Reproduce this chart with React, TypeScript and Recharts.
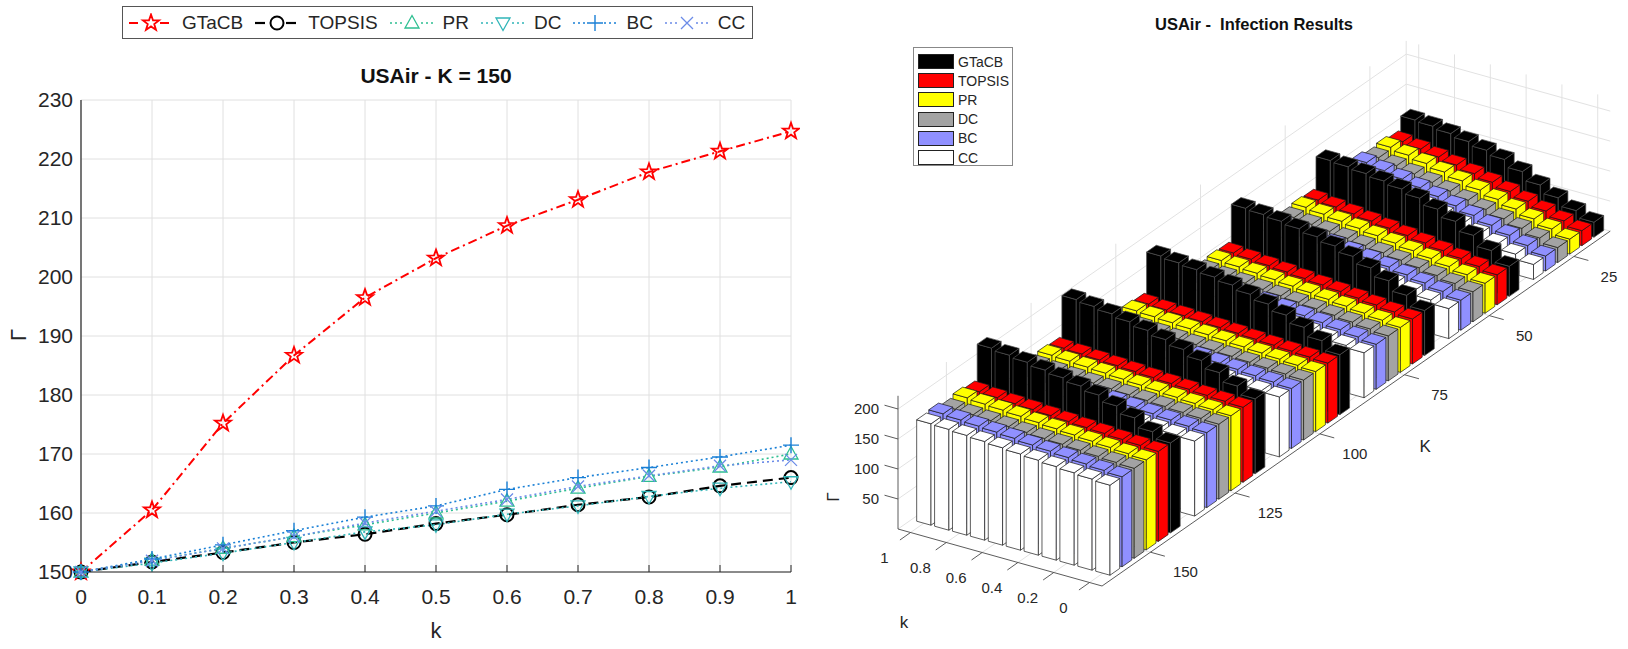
import React from "react";
import { CartesianGrid, Line, LineChart, Scatter, ScatterChart, XAxis, YAxis } from "recharts";

// k on the horizontal axis of the 2D plot, and along the floor of the 3D plot
const kValues = [0, 0.1, 0.2, 0.3, 0.4, 0.5, 0.6, 0.7, 0.8, 0.9, 1];
const kFloorTicks = [0, 0.2, 0.4, 0.6, 0.8, 1];
const groupK = [25, 50, 75, 100, 125, 150];
const gammaTicks = [150, 160, 170, 180, 190, 200, 210, 220, 230];
const zTicks = [50, 100, 150, 200];

// one row per K (25 … 150), values for k = 0 … 1
const gtacb = [
  [25, 36, 49, 62, 76, 88, 95, 101, 106, 110, 112],
  [50, 68, 85, 100, 112, 122, 129, 134, 138, 141, 143],
  [75, 92, 108, 121, 132, 141, 148, 153, 157, 160, 162],
  [100, 115, 129, 141, 151, 159, 166, 171, 175, 178, 181],
  [125, 138, 152, 164, 174, 182, 189, 195, 200, 204, 207],
  [150, 160.5, 175.2, 186.7, 196.5, 203.2, 208.7, 213.1, 217.8, 221.3, 224.7],
];
const topsis = [
  [25, 33, 41, 49, 57, 64, 70, 76, 81, 86, 90],
  [50, 55.5, 60.6, 65.3, 69.7, 73.8, 77.6, 81.2, 84.7, 88, 91.2],
  [75, 78.4, 81.6, 84.6, 87.4, 90, 92.5, 94.9, 97.2, 99.5, 101.6],
  [100, 101.7, 103.3, 104.9, 106.4, 107.9, 109.3, 110.8, 112.2, 113.6, 115],
  [125, 126.6, 128.1, 129.9, 131.2, 132.8, 134.5, 135.9, 137.2, 138.8, 140.1],
  [150, 151.7, 153.3, 155, 156.4, 158.2, 159.7, 161.4, 162.7, 164.6, 166],
];
const pr = [
  [25, 33.6, 42, 50.1, 57.8, 65.2, 72.1, 78.5, 84.4, 89.8, 94.7],
  [50, 55.9, 61.3, 66.3, 70.9, 75.2, 79.2, 83, 86.6, 90, 93.2],
  [75, 78.7, 82.1, 85.3, 88.3, 91.1, 93.7, 96.2, 98.6, 100.9, 103.1],
  [100, 102, 104, 105.9, 107.8, 109.6, 111.3, 113, 114.7, 116.3, 117.8],
  [125, 126.8, 128.7, 130.5, 132.4, 134.1, 135.8, 137.6, 139.2, 140.9, 142.3],
  [150, 152, 154, 156, 158, 160, 162, 164.2, 166.2, 167.8, 170],
];
const dc = [
  [25, 32.7, 40.4, 48, 55.3, 62.4, 69.1, 75.3, 81.1, 86.5, 91.5],
  [50, 55.3, 60.3, 64.9, 69.2, 73.2, 77, 80.6, 84, 87.2, 90.3],
  [75, 78.2, 81.3, 84.2, 86.9, 89.4, 91.8, 94.1, 96.3, 98.4, 100.5],
  [100, 101.6, 103.1, 104.7, 106.2, 107.6, 109, 110.4, 111.8, 113.1, 114.4],
  [125, 126.4, 127.9, 129.5, 131, 132.3, 133.9, 135.2, 136.7, 138, 139.4],
  [150, 151.5, 153.2, 155, 156.8, 158, 159.8, 161.2, 162.8, 164.2, 165.3],
];
const bc = [
  [25, 34.1, 42.9, 51.3, 59.3, 66.9, 74, 80.6, 86.7, 92.3, 97.4],
  [50, 56.3, 62, 67.2, 72, 76.5, 80.7, 84.6, 88.3, 91.8, 95.1],
  [75, 79, 82.7, 86.1, 89.3, 92.2, 94.9, 97.5, 99.9, 102.2, 104.4],
  [100, 102.3, 104.5, 106.7, 108.8, 110.8, 112.8, 114.7, 116.6, 118.4, 120.1],
  [125, 127.1, 129.3, 131.4, 133.5, 135.6, 137.5, 139.4, 141.3, 143, 144.8],
  [150, 152.2, 154.6, 157, 159.3, 161.2, 164, 166, 167.7, 169.5, 171.5],
];
const cc = [
  [25, 33.9, 42.6, 51, 59, 66.5, 73.5, 80.1, 86.2, 91.7, 96.8],
  [50, 56.1, 61.7, 66.9, 71.7, 76.1, 80.3, 84.2, 87.8, 91.2, 94.5],
  [75, 78.9, 82.5, 85.8, 88.9, 91.8, 94.5, 97, 99.4, 101.6, 103.8],
  [100, 102.1, 104.2, 106.2, 108.1, 110, 111.8, 113.6, 115.3, 117, 118.6],
  [125, 126.9, 128.8, 130.7, 132.5, 134.4, 136.2, 138, 139.7, 141.3, 142.9],
  [150, 151.9, 154, 156, 158.3, 160.3, 162.3, 164.5, 166.3, 168, 169],
];

const methods = ["GTaCB", "TOPSIS", "PR", "DC", "BC", "CC"];
const rowsByMethod: Record<string, number[][]> = {
  GTaCB: gtacb,
  TOPSIS: topsis,
  PR: pr,
  DC: dc,
  BC: bc,
  CC: cc,
};

const FONT = '"Liberation Sans", Arial, Helvetica, sans-serif';
const INK = "#262626";

const lineStyle: Record<string, { color: string; dash: string; width: number; marker: string }> = {
  GTaCB: { color: "#ff0000", dash: "9 4 2 4", width: 2, marker: "star" },
  TOPSIS: { color: "#000000", dash: "10 6", width: 2.2, marker: "circle" },
  PR: { color: "#2ebf91", dash: "2 3", width: 1.6, marker: "up" },
  DC: { color: "#30b5b8", dash: "2 3", width: 1.6, marker: "down" },
  BC: { color: "#1a80d6", dash: "2 3", width: 1.6, marker: "plus" },
  CC: { color: "#6b8be8", dash: "2 3", width: 1.6, marker: "x" },
};

const barFill: Record<string, string> = {
  GTaCB: "#000000",
  TOPSIS: "#ff0000",
  PR: "#ffff00",
  DC: "#a3a3a3",
  BC: "#9090ff",
  CC: "#ffffff",
};

// ---------- 2D plot (K = 150) ----------
const k150 = groupK.indexOf(150);
const lineData = kValues.map((k, i) => {
  const row: Record<string, number> = { k };
  methods.forEach((m) => (row[m] = rowsByMethod[m][k150][i]));
  return row;
});

function Marker({ kind, cx, cy, color }: { kind: string; cx: number; cy: number; color: string }) {
  if (cx == null || cy == null) return null;
  if (kind === "star") {
    const pts: string[] = [];
    for (let i = 0; i < 10; i++) {
      const r = i % 2 === 0 ? 8.5 : 3.4;
      const a = -Math.PI / 2 + (i * Math.PI) / 5;
      pts.push(`${cx + r * Math.cos(a)},${cy + r * Math.sin(a)}`);
    }
    return <polygon points={pts.join(" ")} fill="none" stroke={color} strokeWidth={1.8} />;
  }
  if (kind === "circle") return <circle cx={cx} cy={cy} r={6.5} fill="none" stroke={color} strokeWidth={2} />;
  if (kind === "up")
    return (
      <polygon
        points={`${cx},${cy - 7.5} ${cx + 7},${cy + 5} ${cx - 7},${cy + 5}`}
        fill="none"
        stroke={color}
        strokeWidth={1.3}
      />
    );
  if (kind === "down")
    return (
      <polygon
        points={`${cx},${cy + 7.5} ${cx + 7},${cy - 5} ${cx - 7},${cy - 5}`}
        fill="none"
        stroke={color}
        strokeWidth={1.3}
      />
    );
  if (kind === "plus")
    return <path d={`M${cx - 8},${cy}H${cx + 8}M${cx},${cy - 8}V${cy + 8}`} stroke={color} strokeWidth={1.4} />;
  return (
    <path
      d={`M${cx - 6},${cy - 6}L${cx + 6},${cy + 6}M${cx + 6},${cy - 6}L${cx - 6},${cy + 6}`}
      stroke={color}
      strokeWidth={1.3}
    />
  );
}

function LegendSample({ m }: { m: string }) {
  const st = lineStyle[m];
  return (
    <svg width={46} height={20} style={{ display: "block" }}>
      <line x1={1} y1={10} x2={14} y2={10} stroke={st.color} strokeWidth={st.width} strokeDasharray={st.dash} />
      <line x1={32} y1={10} x2={45} y2={10} stroke={st.color} strokeWidth={st.width} strokeDasharray={st.dash} />
      <Marker kind={st.marker} cx={23} cy={10} color={st.color} />
    </svg>
  );
}

function LinePanel() {
  return (
    <div style={{ position: "absolute", left: 0, top: 0, width: 800, height: 649 }}>
      <div
        style={{
          position: "absolute",
          left: 122,
          top: 6,
          width: 631,
          height: 33,
          boxSizing: "border-box",
          border: "1.5px solid #555",
          display: "flex",
          alignItems: "center",
          paddingLeft: 5,
          fontFamily: FONT,
          fontSize: 19,
          color: INK,
        }}
      >
        {methods.map((m) => (
          <div key={m} style={{ display: "flex", alignItems: "center", marginRight: 11 }}>
            <LegendSample m={m} />
            <span style={{ marginLeft: 8 }}>{m}</span>
          </div>
        ))}
      </div>
      <div
        style={{
          position: "absolute",
          left: 81,
          width: 710,
          top: 64,
          textAlign: "center",
          fontFamily: FONT,
          fontWeight: "bold",
          fontSize: 21,
          color: "#111",
        }}
      >
        USAir - K = 150
      </div>
      <LineChart width={800} height={649} data={lineData} margin={{ top: 100, right: 9, bottom: 37, left: 21 }}>
        <CartesianGrid stroke="#e0e0e0" />
        <XAxis
          type="number"
          dataKey="k"
          domain={[0, 1]}
          ticks={kValues}
          tickFormatter={(v) => `${v}`}
          height={40}
          tickLine={false}
          tickMargin={11}
          axisLine={{ stroke: INK, strokeWidth: 1.2 }}
          tick={{ fontSize: 21, fill: INK, fontFamily: FONT }}
        />
        <YAxis
          type="number"
          domain={[150, 230]}
          ticks={gammaTicks}
          width={60}
          tickLine={false}
          axisLine={{ stroke: INK, strokeWidth: 1.2 }}
          tick={{ fontSize: 21, fill: INK, fontFamily: FONT }}
        />
        <XAxis
          xAxisId="inner"
          type="number"
          dataKey="k"
          domain={[0, 1]}
          ticks={kValues}
          mirror
          axisLine={false}
          tickSize={7}
          tickLine={{ stroke: INK }}
          tick={() => <g />}
        />
        <YAxis
          yAxisId="inner"
          type="number"
          domain={[150, 230]}
          ticks={gammaTicks}
          mirror
          axisLine={false}
          tickSize={7}
          tickLine={{ stroke: INK }}
          tick={() => <g />}
        />
        {methods.map((m) => {
          const st = lineStyle[m];
          return (
            <Line
              key={m}
              dataKey={m}
              type="linear"
              stroke={st.color}
              strokeWidth={st.width}
              strokeDasharray={st.dash}
              isAnimationActive={false}
              activeDot={false}
              dot={(p: any) => (
                <Marker key={`${m}-${p.index}`} kind={st.marker} cx={p.cx} cy={p.cy} color={st.color} />
              )}
            />
          );
        })}
      </LineChart>
      <div
        style={{
          position: "absolute",
          left: 426,
          top: 618,
          width: 20,
          textAlign: "center",
          fontFamily: FONT,
          fontSize: 22,
          color: INK,
        }}
      >
        k
      </div>
      <div
        style={{
          position: "absolute",
          left: 9,
          top: 322,
          width: 20,
          textAlign: "center",
          fontFamily: FONT,
          fontSize: 22,
          color: INK,
          transform: "rotate(-90deg)",
        }}
      >
        Γ
      </div>
    </div>
  );
}

// ---------- 3D bar plot ----------
const KV = { x: 17.9, y: 5.0 }; // one k step (0.1) on the floor
const SV = { x: 12.1, y: -8.45 }; // one row slot along K
const FLOOR = { x: 898, y: 529 }; // front-left floor corner
const Z_PX = 0.6;
const U_MIN = -0.7;
const U_MAX = 10.7;
const S_MIN = -0.5;
const S_MAX = 41.5;
const Z_MAX = 222;
const SLOTS = 7;
const frontToBack = ["CC", "BC", "DC", "PR", "TOPSIS", "GTaCB"];

function project(u: number, s: number, z = 0) {
  return {
    px: FLOOR.x + (u - U_MIN) * KV.x + (s - S_MIN) * SV.x,
    py: FLOOR.y + (u - U_MIN) * KV.y + (s - S_MIN) * SV.y - z * Z_PX,
  };
}

const groupSlot = (gi: number) => (groupK.length - 1 - gi) * SLOTS;
const uOfK = (k: number) => Math.round((1 - k) * 10);

const bars: any[] = [];
groupK.forEach((_, gi) => {
  frontToBack.forEach((m, mi) => {
    const s = groupSlot(gi) + 1 + mi;
    rowsByMethod[m][gi].forEach((gamma, j) => {
      const u = uOfK(kValues[j]);
      bars.push({ ...project(u, s), gamma, m, u, s });
    });
  });
});
bars.sort((a, b) => b.s - a.s || a.u - b.u);

type Seg = { px: number; py: number; dx: number; dy: number; stroke: string; w: number };
const gridSegs: Seg[] = [];
const axisSegs: Seg[] = [];
function seg(list: Seg[], a: { px: number; py: number }, b: { px: number; py: number }, stroke: string, w: number) {
  list.push({ px: a.px, py: a.py, dx: b.px - a.px, dy: b.py - a.py, stroke, w });
}
const GRID = "#e2e2e2";
const kTickSlots = groupK.map((_, gi) => groupSlot(gi) + 3.5);
// left wall
kTickSlots.forEach((s) => seg(gridSegs, project(U_MIN, s), project(U_MIN, s, Z_MAX), GRID, 1));
zTicks.forEach((z) => seg(gridSegs, project(U_MIN, S_MIN, z), project(U_MIN, S_MAX, z), GRID, 1));
// back wall
kFloorTicks.forEach((k) => seg(gridSegs, project(uOfK(k), S_MAX), project(uOfK(k), S_MAX, Z_MAX), GRID, 1));
zTicks.forEach((z) => seg(gridSegs, project(U_MIN, S_MAX, z), project(U_MAX, S_MAX, z), GRID, 1));
seg(gridSegs, project(U_MIN, S_MAX), project(U_MIN, S_MAX, Z_MAX), GRID, 1);
// floor
kFloorTicks.forEach((k) => seg(gridSegs, project(uOfK(k), S_MIN), project(uOfK(k), S_MAX), GRID, 1));
kTickSlots.forEach((s) => seg(gridSegs, project(U_MIN, s), project(U_MAX, s), GRID, 1));
seg(gridSegs, project(U_MIN, S_MIN), project(U_MIN, S_MAX), GRID, 1);
seg(gridSegs, project(U_MIN, S_MAX), project(U_MAX, S_MAX), GRID, 1);

// axes and ticks
const AX = "#4a4a4a";
seg(axisSegs, project(U_MIN, S_MIN), project(U_MIN, S_MIN, Z_MAX), AX, 0.9);
seg(axisSegs, project(U_MIN, S_MIN), project(U_MAX, S_MIN), AX, 0.9);
seg(axisSegs, project(U_MAX, S_MIN), project(U_MAX, S_MAX), AX, 0.9);
zTicks.forEach((z) => {
  const p = project(U_MIN, S_MIN, z);
  seg(axisSegs, p, { px: p.px - 13.5, py: p.py - 3.8 }, AX, 0.9);
});
kFloorTicks.forEach((k) => {
  const p = project(uOfK(k), S_MIN);
  seg(axisSegs, p, { px: p.px - 10.6, py: p.py + 7.5 }, AX, 0.9);
});
kTickSlots.forEach((s) => {
  const p = project(U_MAX, s);
  seg(axisSegs, p, { px: p.px + 14.4, py: p.py + 4 }, AX, 0.9);
});

const labels: any[] = [
  ...zTicks.map((z) => ({ ...project(U_MIN, S_MIN, z), text: `${z}`, ox: -19, oy: 0, anchor: "end", size: 15, rot: 0 })),
  ...kFloorTicks.map((k) => ({ ...project(uOfK(k), S_MIN), text: `${k}`, ox: -26, oy: 25, anchor: "middle", size: 15, rot: 0 })),
  ...groupK.map((K, gi) => ({ ...project(U_MAX, kTickSlots[gi]), text: `${K}`, ox: 35, oy: 20, anchor: "middle", size: 15, rot: 0 })),
  { ...project(5, S_MIN), text: "k", ox: -96, oy: 65, anchor: "middle", size: 17, rot: 0 },
  { ...project(U_MAX, 21), text: "K", ox: 63, oy: 42, anchor: "middle", size: 17, rot: 0 },
  { ...project(U_MIN, S_MIN, 100), text: "Γ", ox: -65, oy: 28, anchor: "middle", size: 17, rot: -90 },
];

function SegShape(props: any) {
  const { cx, cy, payload } = props;
  return (
    <line x1={cx} y1={cy} x2={cx + payload.dx} y2={cy + payload.dy} stroke={payload.stroke} strokeWidth={payload.w} />
  );
}

function LabelShape(props: any) {
  const { cx, cy, payload } = props;
  const x = cx + payload.ox;
  const y = cy + payload.oy;
  return (
    <text
      x={x}
      y={y}
      dy="0.35em"
      textAnchor={payload.anchor}
      fontSize={payload.size}
      fontFamily={FONT}
      fill={INK}
      transform={payload.rot ? `rotate(${payload.rot} ${x} ${y})` : undefined}
    >
      {payload.text}
    </text>
  );
}

function BarShape(props: any) {
  const { cx, cy, payload } = props;
  const h = payload.gamma * Z_PX;
  const hu = { x: KV.x * 0.4, y: KV.y * 0.4 };
  const hs = { x: SV.x * 0.4, y: SV.y * 0.4 };
  const A = [cx - hu.x - hs.x, cy - hu.y - hs.y];
  const B = [cx + hu.x - hs.x, cy + hu.y - hs.y];
  const C = [cx + hu.x + hs.x, cy + hu.y + hs.y];
  const D = [cx - hu.x + hs.x, cy - hu.y + hs.y];
  const up = (p: number[]) => [p[0], p[1] - h];
  const poly = (ps: number[][]) => ps.map((p) => `${p[0]},${p[1]}`).join(" ");
  const fill = barFill[payload.m];
  const stroke = payload.m === "GTaCB" ? "#4d4d4d" : "#1a1a1a";
  return (
    <g stroke={stroke} strokeWidth={0.7} strokeLinejoin="round" fill={fill}>
      <polygon points={poly([A, B, up(B), up(A)])} />
      <polygon points={poly([B, C, up(C), up(B)])} />
      <polygon points={poly([up(A), up(B), up(C), up(D)])} />
    </g>
  );
}

function BarPanel() {
  return (
    <div style={{ position: "absolute", left: 800, top: 0, width: 828, height: 649 }}>
      <ScatterChart width={828} height={649} margin={{ top: 0, right: 0, bottom: 0, left: 0 }}>
        <XAxis type="number" dataKey="px" domain={[800, 1628]} hide />
        <YAxis type="number" dataKey="py" domain={[0, 649]} reversed hide />
        <Scatter data={gridSegs} shape={SegShape} isAnimationActive={false} />
        <Scatter data={axisSegs} shape={SegShape} isAnimationActive={false} />
        <Scatter data={bars} shape={BarShape} isAnimationActive={false} />
        <Scatter data={labels} shape={LabelShape} isAnimationActive={false} />
      </ScatterChart>
      <div
        style={{
          position: "absolute",
          left: 354,
          top: 15,
          width: 200,
          textAlign: "center",
          fontFamily: FONT,
          fontWeight: "bold",
          fontSize: 16.5,
          color: "#111",
          whiteSpace: "pre",
        }}
      >
        {"USAir -  Infection Results"}
      </div>
      <div
        style={{
          position: "absolute",
          left: 113,
          top: 47,
          width: 100,
          height: 119,
          boxSizing: "border-box",
          border: "1.2px solid #888",
          background: "#fff",
          paddingTop: 4,
          paddingLeft: 4,
          fontFamily: FONT,
          fontSize: 14,
          color: INK,
        }}
      >
        {methods.map((m) => (
          <div key={m} style={{ display: "flex", alignItems: "center", height: 19.2 }}>
            <div
              style={{
                width: 36,
                height: 15,
                boxSizing: "border-box",
                border: "1px solid #222",
                background: barFill[m],
                marginRight: 4,
              }}
            />
            <span>{m}</span>
          </div>
        ))}
      </div>
    </div>
  );
}

export default function App() {
  return (
    <div
      style={{
        position: "absolute",
        left: 0,
        top: 0,
        width: 1628,
        height: 649,
        background: "#fff",
        overflow: "hidden",
      }}
    >
      <LinePanel />
      <BarPanel />
    </div>
  );
}
